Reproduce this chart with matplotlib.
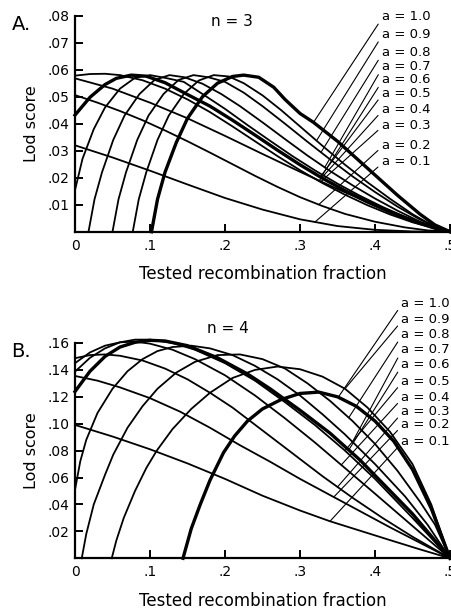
import numpy as np
import matplotlib
matplotlib.use('Agg')
import matplotlib.pyplot as plt
# ------------------------------ #

A_VALUES = [1.0, 0.9, 0.8, 0.7, 0.6, 0.5, 0.4, 0.3, 0.2, 0.1]
BOLD_A = [1.0, 0.5]
BOLD_B = [1.0, 0.6]

# panel A, n = 3 : tested theta / lod score for each a
A_THETA = [
	[0.102, 0.11, 0.12, 0.135, 0.15, 0.17, 0.19, 0.21, 0.225, 0.245, 0.265, 0.28, 0.30, 0.318, 0.35, 0.38, 0.40, 0.43, 0.46, 0.48, 0.50],
	[0.077, 0.085, 0.095, 0.11, 0.125, 0.145, 0.165, 0.185, 0.205, 0.225, 0.25, 0.275, 0.30, 0.33, 0.36, 0.39, 0.42, 0.45, 0.475, 0.50],
	[0.05, 0.058, 0.068, 0.083, 0.098, 0.118, 0.138, 0.158, 0.178, 0.20, 0.225, 0.25, 0.28, 0.31, 0.34, 0.37, 0.40, 0.43, 0.46, 0.50],
	[0.018, 0.026, 0.036, 0.051, 0.066, 0.086, 0.106, 0.126, 0.146, 0.17, 0.195, 0.22, 0.25, 0.28, 0.31, 0.34, 0.37, 0.40, 0.43, 0.46, 0.50],
	[0.0, 0.01, 0.025, 0.04, 0.06, 0.08, 0.10, 0.12, 0.145, 0.17, 0.20, 0.23, 0.26, 0.29, 0.32, 0.35, 0.38, 0.41, 0.44, 0.47, 0.50],
	[0.0, 0.02, 0.04, 0.055, 0.075, 0.095, 0.12, 0.15, 0.18, 0.21, 0.24, 0.27, 0.30, 0.33, 0.36, 0.39, 0.42, 0.45, 0.48, 0.50],
	[0.0, 0.02, 0.04, 0.06, 0.09, 0.12, 0.15, 0.18, 0.21, 0.24, 0.27, 0.30, 0.33, 0.36, 0.39, 0.42, 0.45, 0.48, 0.50],
	[0.0, 0.05, 0.10, 0.15, 0.20, 0.25, 0.30, 0.35, 0.40, 0.45, 0.48, 0.50],
	[0.0, 0.03, 0.06, 0.09, 0.12, 0.15, 0.18, 0.21, 0.24, 0.27, 0.30, 0.33, 0.36, 0.40, 0.44, 0.47, 0.50],
	[0.0, 0.05, 0.10, 0.15, 0.20, 0.25, 0.30, 0.35, 0.40, 0.45, 0.50],
]
A_LOD = [
	[0.0, 0.012, 0.022, 0.033, 0.042, 0.050, 0.055, 0.0575, 0.058, 0.0572, 0.0535, 0.049, 0.0438, 0.0405, 0.0335, 0.026, 0.021, 0.0135, 0.0065, 0.0025, 0.0],
	[0.0, 0.012, 0.022, 0.034, 0.043, 0.051, 0.056, 0.058, 0.0575, 0.055, 0.0505, 0.045, 0.039, 0.0318, 0.0248, 0.0183, 0.0122, 0.0065, 0.0025, 0.0],
	[0.0, 0.012, 0.022, 0.034, 0.043, 0.051, 0.0562, 0.058, 0.0572, 0.0555, 0.0515, 0.0465, 0.040, 0.0333, 0.0268, 0.0205, 0.0147, 0.0093, 0.0045, 0.0],
	[0.0, 0.012, 0.022, 0.034, 0.043, 0.051, 0.0562, 0.058, 0.0572, 0.0548, 0.051, 0.0465, 0.0405, 0.0343, 0.0282, 0.0225, 0.0172, 0.0123, 0.0078, 0.0037, 0.0],
	[0.0154, 0.027, 0.038, 0.046, 0.053, 0.057, 0.058, 0.057, 0.0555, 0.051, 0.0455, 0.0395, 0.0337, 0.028, 0.0227, 0.0178, 0.0133, 0.0092, 0.0055, 0.0022, 0.0],
	[0.0432, 0.0498, 0.0545, 0.0568, 0.058, 0.0576, 0.0552, 0.0508, 0.0465, 0.0413, 0.0358, 0.0302, 0.0248, 0.0198, 0.0152, 0.011, 0.0073, 0.004, 0.0013, 0.0],
	[0.0578, 0.0584, 0.0585, 0.058, 0.0561, 0.053, 0.049, 0.0443, 0.039, 0.0335, 0.028, 0.0228, 0.018, 0.0137, 0.0098, 0.0064, 0.0035, 0.0012, 0.0],
	[0.0568, 0.053, 0.0478, 0.042, 0.0355, 0.0288, 0.0222, 0.0158, 0.0098, 0.0045, 0.0015, 0.0],
	[0.0506, 0.0478, 0.0447, 0.0413, 0.0375, 0.0335, 0.0293, 0.025, 0.0207, 0.0166, 0.0128, 0.0095, 0.0066, 0.0037, 0.0016, 0.0005, 0.0],
	[0.032, 0.0275, 0.0226, 0.0175, 0.0125, 0.0082, 0.0046, 0.0021, 0.0007, 0.0001, 0.0],
]

# panel B, n = 4
B_THETA = [
	[0.144, 0.155, 0.167, 0.18, 0.198, 0.213, 0.23, 0.25, 0.275, 0.30, 0.325, 0.35, 0.375, 0.40, 0.425, 0.45, 0.475, 0.50],
	[0.049, 0.055, 0.065, 0.08, 0.095, 0.109, 0.13, 0.155, 0.18, 0.21, 0.24, 0.27, 0.30, 0.33, 0.36, 0.39, 0.42, 0.45, 0.475, 0.50],
	[0.009, 0.015, 0.025, 0.04, 0.051, 0.07, 0.09, 0.11, 0.135, 0.16, 0.19, 0.22, 0.25, 0.28, 0.31, 0.34, 0.37, 0.40, 0.43, 0.46, 0.48, 0.50],
	[0.0, 0.007, 0.015, 0.03, 0.05, 0.07, 0.09, 0.11, 0.13, 0.155, 0.18, 0.21, 0.24, 0.27, 0.30, 0.33, 0.36, 0.40, 0.44, 0.47, 0.50],
	[0.0, 0.02, 0.04, 0.06, 0.08, 0.10, 0.12, 0.15, 0.19, 0.23, 0.26, 0.30, 0.34, 0.38, 0.415, 0.45, 0.50],
	[0.0, 0.02, 0.04, 0.06, 0.08, 0.10, 0.13, 0.16, 0.20, 0.24, 0.28, 0.32, 0.36, 0.40, 0.45, 0.50],
	[0.0, 0.02, 0.04, 0.06, 0.08, 0.10, 0.13, 0.16, 0.20, 0.24, 0.28, 0.32, 0.36, 0.40, 0.45, 0.50],
	[0.0, 0.02, 0.04, 0.06, 0.09, 0.12, 0.15, 0.18, 0.21, 0.25, 0.29, 0.33, 0.37, 0.41, 0.45, 0.50],
	[0.0, 0.03, 0.06, 0.10, 0.14, 0.18, 0.22, 0.26, 0.30, 0.34, 0.38, 0.42, 0.46, 0.50],
	[0.0, 0.05, 0.10, 0.15, 0.20, 0.25, 0.30, 0.34, 0.38, 0.42, 0.46, 0.50],
]
B_LOD = [
	[0.0, 0.022, 0.040, 0.058, 0.0785, 0.091, 0.102, 0.111, 0.118, 0.1225, 0.1235, 0.120, 0.113, 0.102, 0.087, 0.066, 0.037, 0.0],
	[0.0, 0.013, 0.030, 0.050, 0.067, 0.080, 0.096, 0.111, 0.123, 0.134, 0.140, 0.1425, 0.1405, 0.135, 0.126, 0.112, 0.094, 0.070, 0.040, 0.0],
	[0.0, 0.018, 0.040, 0.062, 0.077, 0.097, 0.113, 0.126, 0.138, 0.146, 0.151, 0.1515, 0.148, 0.141, 0.130, 0.117, 0.102, 0.085, 0.065, 0.042, 0.025, 0.0],
	[0.0508, 0.072, 0.088, 0.108, 0.126, 0.139, 0.148, 0.154, 0.157, 0.158, 0.156, 0.151, 0.143, 0.133, 0.121, 0.107, 0.092, 0.070, 0.046, 0.025, 0.0],
	[0.1239, 0.139, 0.150, 0.157, 0.1605, 0.162, 0.1615, 0.158, 0.149, 0.137, 0.126, 0.110, 0.093, 0.073, 0.053, 0.033, 0.0],
	[0.1387, 0.149, 0.156, 0.1605, 0.1625, 0.1625, 0.160, 0.155, 0.145, 0.132, 0.116, 0.099, 0.080, 0.059, 0.030, 0.0],
	[0.145, 0.153, 0.158, 0.1605, 0.161, 0.1595, 0.155, 0.148, 0.136, 0.121, 0.104, 0.086, 0.067, 0.048, 0.024, 0.0],
	[0.1487, 0.151, 0.1515, 0.1505, 0.147, 0.141, 0.133, 0.123, 0.112, 0.095, 0.078, 0.061, 0.045, 0.030, 0.016, 0.0],
	[0.1355, 0.132, 0.127, 0.119, 0.109, 0.097, 0.084, 0.0718, 0.059, 0.047, 0.035, 0.023, 0.0115, 0.0],
	[0.0991, 0.0905, 0.081, 0.0705, 0.059, 0.0465, 0.0355, 0.0275, 0.0205, 0.0135, 0.0066, 0.0],
]
# ------------------------------ #

def drawPanel(ax, thetas, lods, bold, yMax, yStep, tagText, nText, nPos, labelPos, labelY, labelEnd):
	for a, th, ld in zip(A_VALUES, thetas, lods):
		lw = 2.4 if a in bold else 1.3
		ax.plot(th, ld, color = 'black', lw = lw, solid_joinstyle = 'round', clip_on = False)

	for a, th, ld, ly, tx in zip(A_VALUES, thetas, lods, labelY, labelEnd):
		ty = np.interp(tx, th, ld)
		ax.annotate(
			f'a = {a:.1f}', xy = (tx, ty), xytext = (labelPos, ly),
			fontsize = 9.5, ha = 'left', va = 'center', annotation_clip = False,
			arrowprops = dict(arrowstyle = '-', lw = 0.8, color = 'black', shrinkA = 1, shrinkB = 0, relpos = (0, 0.35))
		)

	ax.set_xlim(0, 0.5)
	ax.set_ylim(0, yMax)
	ax.spines['top'].set_visible(False)
	ax.spines['right'].set_visible(False)
	ax.spines['left'].set_linewidth(1.6)
	ax.spines['bottom'].set_linewidth(1.6)

	xt = [0, 0.1, 0.2, 0.3, 0.4, 0.5]
	ax.set_xticks(xt)
	ax.set_xticklabels(['0', '.1', '.2', '.3', '.4', '.5'], fontsize = 10)
	yt = np.arange(1, round(yMax / yStep) + 1) * yStep
	ax.set_yticks(yt)
	ax.set_yticklabels([f'{v:.2f}'[1:] for v in yt], fontsize = 10)
	ax.tick_params(direction = 'in', length = 6, width = 1.4, pad = 4)
	ax.tick_params(axis = 'x', pad = 5)

	ax.set_xlabel('Tested recombination fraction', fontsize = 12, labelpad = 9)
	ax.set_ylabel('Lod score', fontsize = 11.5, labelpad = 6)
	ax.text(-0.072, yMax * 0.96, tagText, fontsize = 14, ha = 'center', va = 'center', clip_on = False)
	ax.text(nPos[0], nPos[1], nText, fontsize = 11, ha = 'center', va = 'center', clip_on = False)
# ------------------------------ #

if __name__ == '__main__':
	fig = plt.figure(figsize = (4.51, 6.09), dpi = 100, facecolor = 'white')
	axA = fig.add_axes([0.1663, 0.6195, 0.8315, 0.3547])
	axB = fig.add_axes([0.1663, 0.0833, 0.8315, 0.3535])

	drawPanel(
		axA, A_THETA, A_LOD, BOLD_A, 0.08, 0.01, 'A.', 'n = 3', (0.209, 0.0777), 0.409,
		[0.0796, 0.0731, 0.0663, 0.0611, 0.0562, 0.0513, 0.0453, 0.0395, 0.0321, 0.0259],
		[0.318, 0.322, 0.328, 0.333, 0.33, 0.327, 0.325, 0.328, 0.325, 0.32]
	)
	drawPanel(
		axB, B_THETA, B_LOD, BOLD_B, 0.16, 0.02, 'B.', 'n = 4', (0.204, 0.171), 0.435,
		[0.1895, 0.1773, 0.1662, 0.1550, 0.1439, 0.1315, 0.1195, 0.1088, 0.0993, 0.0867],
		[0.351, 0.36, 0.365, 0.37, 0.365, 0.36, 0.355, 0.35, 0.345, 0.34]
	)

	fig.savefig('out.png', dpi = 100, facecolor = 'white')
